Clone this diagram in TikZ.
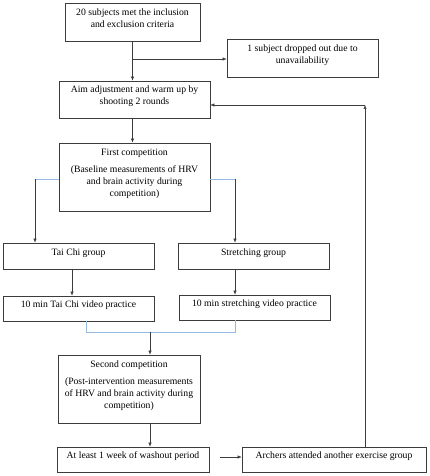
\documentclass[tikz,border=0pt]{standalone}
\usepackage{fontspec}
\setmainfont{Liberation Serif}
\usetikzlibrary{arrows.meta,calc}
\definecolor{lineg}{RGB}{60,60,60}
\definecolor{lblue}{RGB}{150,185,225}
\begin{document}
\begin{tikzpicture}[x=1pt,y=-1pt,
  box/.style={draw=lineg,line width=0.6pt,inner sep=0pt,align=center,text depth=8pt,
    font=\fontsize{9.7}{12}\selectfont},
  conn/.style={draw=lineg,line width=0.5pt},
  arr/.style={conn,-{Latex[length=4pt,width=3.2pt]}},
  bline/.style={draw=lblue,line width=0.6pt}]
\useasboundingbox (0,0) rectangle (429,476);
\node[box,minimum width=135pt,minimum height=38pt] (b1) at (132.5,22) {20 subjects met the inclusion\\and exclusion criteria};
\node[box,minimum width=151pt,minimum height=38pt] (drop) at (302.5,58) {1 subject dropped out due to\\unavailability};
\node[box,minimum width=151pt,minimum height=37pt] (aim) at (134.5,99.5) {Aim adjustment and warm up by\\shooting 2 rounds};
\node[box,minimum width=151pt,minimum height=68pt] (first) at (134.5,177) {First competition\\[5pt](Baseline measurements of HRV\\and brain activity during\\competition)};
\node[box,minimum width=151pt,minimum height=26pt] (tai) at (78.5,256) {Tai Chi group};
\node[box,minimum width=151pt,minimum height=26pt] (str) at (253.5,256) {Stretching group};
\node[box,minimum width=151pt,minimum height=25pt] (tai10) at (78.5,308.5) {10 min Tai Chi video practice};
\node[box,minimum width=151pt,minimum height=25pt] (str10) at (254.5,307.5) {10 min stretching video practice};
\node[box,minimum width=142pt,minimum height=68pt] (second) at (129,389) {Second competition\\[5pt](Post-intervention measurements\\of HRV and brain activity during\\competition)};
\node[box,minimum width=152pt,minimum height=25pt] (wash) at (133,459.5) {At least 1 week of washout period};
\node[box,minimum width=184pt,minimum height=25pt] (arch) at (334,459.5) {Archers attended another exercise group};

\coordinate (j1) at (132.5,59);
\coordinate (cl) at (35,179);
\coordinate (cr) at (235,179);
\coordinate (m) at (150,332);
\coordinate (fb) at (365,105);
\coordinate (wa) at (220,457);

\draw[arr] (b1.south) -- (b1.south |- aim.north);
\draw[arr] (j1) -- (j1 -| drop.west);
\draw[arr] (aim.south -| b1.south) -- (b1.south |- first.north);
\draw[bline] (first.west |- cl) -- (cl);
\draw[arr] (cl) -- (cl |- tai.north);
\draw[bline] (first.east |- cr) -- (cr);
\draw[arr] (cr) -- (cr |- str.north);
\draw[arr] (tai.south -| 72,0) -- (tai10.north -| 72,0);
\draw[arr] (str.south -| cr) -- (str10.north -| cr);
\draw[bline] (tai10.south -| 86,0) -- (86,332) -- (235,332) -- (str10.south -| cr);
\draw[arr] (m) -- (m |- second.north);
\draw[arr] (second.south -| m) -- (wash.north -| m);
\draw[arr] (wa) -- (wa -| arch.west);
\draw[arr] (arch.north -| fb) -- (fb);
\draw[arr] (fb) -- (fb -| aim.east);
\end{tikzpicture}
\end{document}
